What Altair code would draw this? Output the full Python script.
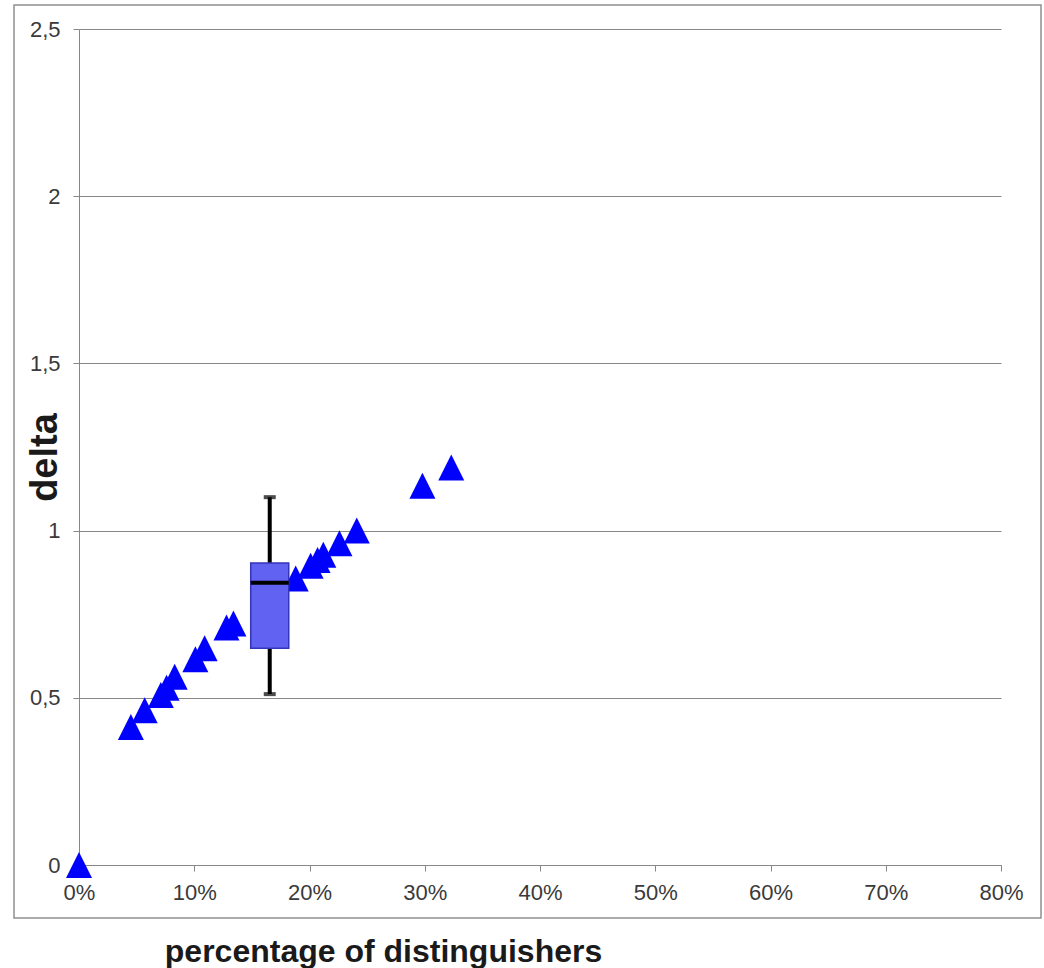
import altair as alt
import pandas as pd

# Scatter data (percentage of distinguishers in %, delta)
pct = [0, 4.5, 5.7, 7.1, 7.6, 8.3, 10.1, 10.9, 12.8, 13.4, 18.8, 20.1, 20.7, 21.2, 22.6, 24.1, 29.8, 32.3]
delta = [0, 0.413, 0.463, 0.508, 0.530, 0.563, 0.615, 0.648, 0.710, 0.722, 0.857,
         0.895, 0.912, 0.928, 0.962, 1.0, 1.134, 1.189]

# Box plot summary
box_left = [14.9]
box_right = [18.2]
box_center = [16.55]
q1 = [0.648]
q3 = [0.903]
median = [0.844]
whisker_lo = [0.511]
whisker_hi = [1.10]

x_ticks = [0, 10, 20, 30, 40, 50, 60, 70, 80]
y_ticks = [0, 0.5, 1, 1.5, 2, 2.5]

FONT = "Liberation Sans"
GRAY = "#878787"

pts = pd.DataFrame({"pct": pct, "delta": delta})
box = pd.DataFrame({"left": box_left, "right": box_right, "center": box_center,
                    "q1": q1, "q3": q3, "median": median,
                    "lo": whisker_lo, "hi": whisker_hi})

xscale = alt.Scale(domain=[0, 80], nice=False, zero=False)
yscale = alt.Scale(domain=[0, 2.5], nice=False, zero=False)

x_axis = alt.Axis(
    values=x_ticks, grid=False, labelExpr="datum.value + '%'",
    title="percentage of distinguishers", titleX=304, titleY=96,
    titleBaseline="alphabetic", titleAlign="center", titleAnchor="start",
    titleFontSize=32, titleFontWeight="bold", titleColor="#1a1a1a", titleFont=FONT,
    labelFont=FONT, labelFontSize=22, labelColor="#3a3a3a", labelPadding=21,
    labelBaseline="middle", tickSize=6, tickColor=GRAY, domainColor=GRAY,
    labelFlush=False,
)
y_axis = alt.Axis(
    values=y_ticks, grid=True, gridColor=GRAY, gridWidth=1,
    labelExpr="replace(toString(datum.value), '.', ',')",
    title="delta", titleX=-34, titleY=428, titleAngle=-90,
    titleBaseline="middle", titleAlign="center", titleAnchor="start",
    titleFontSize=38, titleFontWeight="bold", titleColor="#1a1a1a", titleFont=FONT,
    labelFont=FONT, labelFontSize=22, labelColor="#3a3a3a", labelPadding=13,
    tickSize=6, tickColor=GRAY, domainColor=GRAY, labelFlush=False,
)

frame = alt.Chart(pd.DataFrame({"a": [0]})).mark_rect(
    fillOpacity=0, stroke="#909090", strokeWidth=1.5
).encode(x=alt.value(-65), x2=alt.value(962), y=alt.value(-24), y2=alt.value(889))

points = alt.Chart(pts).mark_point(
    shape="M-1,1L1,1L0,-1Z", filled=True, color="#0000FF", size=676, opacity=1
).encode(
    x=alt.X("pct:Q", scale=xscale, axis=x_axis),
    y=alt.Y("delta:Q", scale=yscale, axis=y_axis),
)

whisker = alt.Chart(box).mark_rule(color="black", strokeWidth=4).encode(
    x=alt.X("center:Q", scale=xscale, axis=x_axis),
    y=alt.Y("lo:Q", scale=yscale, axis=y_axis),
    y2="hi:Q",
)

rect = alt.Chart(box).mark_rect(fill="#6161F2", stroke="#3434B8", strokeWidth=1.5).encode(
    x=alt.X("left:Q", scale=xscale, axis=x_axis),
    x2="right:Q",
    y=alt.Y("q1:Q", scale=yscale, axis=y_axis),
    y2="q3:Q",
)

med = alt.Chart(box).mark_rule(color="black", strokeWidth=4).encode(
    x=alt.X("left:Q", scale=xscale, axis=x_axis),
    x2="right:Q",
    y=alt.Y("median:Q", scale=yscale, axis=y_axis),
)

cap_lo = alt.Chart(box).mark_tick(color="black", orient="horizontal", size=12, thickness=4).encode(
    x=alt.X("center:Q", scale=xscale, axis=x_axis),
    y=alt.Y("lo:Q", scale=yscale, axis=y_axis),
)
cap_hi = alt.Chart(box).mark_tick(color="black", orient="horizontal", size=12, thickness=4).encode(
    x=alt.X("center:Q", scale=xscale, axis=x_axis),
    y=alt.Y("hi:Q", scale=yscale, axis=y_axis),
)

chart = alt.layer(frame, points, whisker, rect, med, cap_lo, cap_hi).properties(
    width=922, height=836,
    autosize=alt.AutoSizeParams(type="none"),
    padding={"left": 79, "top": 29, "right": 43, "bottom": 103},
    background="white",
).configure_view(stroke=None)

chart.save("out.html", embed_options={"renderer": "svg", "actions": False})
